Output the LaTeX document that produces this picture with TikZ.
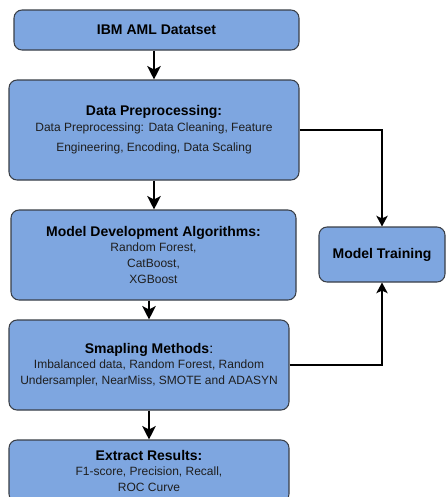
\documentclass[tikz,border=0pt]{standalone}
\usepackage{fontspec}
\setmainfont{Liberation Sans}
\usetikzlibrary{arrows.meta}
\definecolor{boxfill}{HTML}{7EA6E0}
\definecolor{boxline}{HTML}{3A3F47}
\definecolor{bodytxt}{HTML}{1E1E1E}
\newcommand{\ttl}{\fontsize{10.5}{12}\selectfont\bfseries}
\newcommand{\bdy}{\fontsize{9}{10.9}\selectfont\color{bodytxt}}
\begin{document}
\begin{tikzpicture}[x=0.75pt,y=-0.75pt,
  box/.style={draw=boxline,fill=boxfill,line width=0.8pt,rounded corners=6pt,align=center,inner sep=0pt},
  arr/.style={-{Stealth[length=10pt,width=10pt,inset=2.5pt]},line width=2pt,black},
  sidearr/.style={-{Stealth[length=8pt,width=8.5pt,inset=2pt]},line width=1.4pt,black}]
\useasboundingbox (0,0) rectangle (446,497);
\clip (0,0) rectangle (446,497);
\fill[white] (0,0) rectangle (446,497);
\node[box,minimum width=213.75pt,minimum height=30pt] (b1) at (156.5,30) {\ttl IBM AML Datatset};
\node[box,minimum width=217.5pt,minimum height=75pt] (b2) at (154,130)
  {\ttl Data Preprocessing:\\[-0.5pt] \bdy Data Preprocessing: Data Cleaning, Feature\\[3.4pt] \bdy Engineering, Encoding, Data Scaling};
\node[box,minimum width=213.75pt,minimum height=67.5pt] (b3) at (153.5,255)
  {\ttl Model Development Algorithms:\\[-1pt] \bdy Random Forest,\\ \bdy CatBoost,\\ \bdy XGBoost};
\node[box,minimum width=94.5pt,minimum height=41.25pt] (b4) at (382,254.5) {\ttl Model Training};
\node[box,minimum width=210pt,minimum height=67.5pt] (b5) at (149,365)
  {{\ttl Smapling Methods}{\fontsize{10.5}{12}\selectfont:}\\[-0.5pt] \bdy Imbalanced data, Random Forest, Random\\ \bdy Undersampler, NearMiss, SMOTE and ADASYN};
\node[box,minimum width=210pt,minimum height=46.5pt] (b6) at (149,471)
  {\ttl Extract Results:\\[-1pt] \bdy F1-score, Precision, Recall,\\ \bdy ROC Curve};
\draw[arr] (b1.south -| b2.north) -- (b2.north);
\draw[arr] (b2.south) -- (b2.south |- b3.north);
\draw[arr] (b3.south -| b5.north) -- (b5.north);
\draw[arr] (b5.south) -- (b6.north);
\draw[sidearr] (b2.east) -| (b4.north);
\draw[sidearr] (b5.east) -| (b4.south);
\end{tikzpicture}
\end{document}
